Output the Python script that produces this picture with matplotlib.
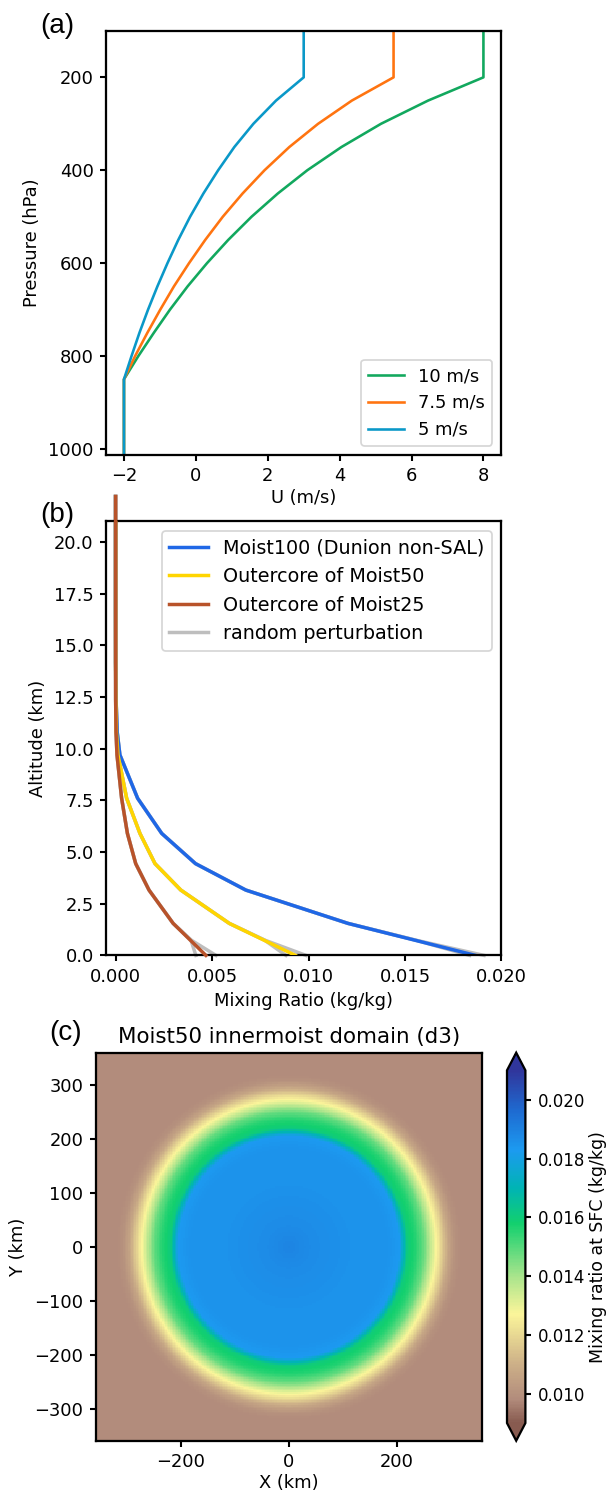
import numpy as np
import matplotlib
matplotlib.use('Agg')
import matplotlib.pyplot as plt
from matplotlib.colors import LinearSegmentedColormap, Normalize

# ---------------- data: panel (a) zonal wind profiles ----------------
pressure_hpa = [100, 200, 250, 300, 350, 400, 450, 500, 550, 600, 650, 700, 750, 800, 850, 1013]
u_10 = [8.0, 8.0, 6.46, 5.15, 4.05, 3.10, 2.28, 1.55, 0.90, 0.31, -0.23, -0.72, -1.17, -1.60, -2.0, -2.0]
u_75 = [5.5, 5.5, 4.34, 3.40, 2.60, 1.91, 1.30, 0.75, 0.26, -0.19, -0.61, -0.99, -1.35, -1.69, -2.0, -2.0]
u_5 = [3.0, 3.0, 2.23, 1.60, 1.07, 0.62, 0.21, -0.16, -0.49, -0.79, -1.07, -1.33, -1.57, -1.79, -2.0, -2.0]
wind_labels = ['10 m/s', '7.5 m/s', '5 m/s']

# ---------------- data: panel (b) moisture profiles ----------------
height_km = [0.0, 1.55, 3.16, 4.44, 5.9, 7.6, 9.7, 10.8, 12.4, 14.2, 16.6, 22.2]
q_moist100 = [0.01865, 0.01204, 0.00675, 0.00414, 0.00239, 0.00114, 0.00022, 0.00008, 0.00002, 0.0, 0.0, 0.0]
q_moist50 = [0.00932, 0.00589, 0.00338, 0.00204, 0.00126, 0.00057, 0.00012, 0.00004, 0.00001, 0.0, 0.0, 0.0]
q_moist25 = [0.00468, 0.00298, 0.00173, 0.00104, 0.00061, 0.00031, 0.00007, 0.00002, 0.0, 0.0, 0.0, 0.0]
# random perturbation envelopes: surface values and value at 0.75 km
grey_low_height_km = [0.0, 0.75]
grey_q100 = [[0.01835, 0.0155], [0.0191, 0.0155]]
grey_q50 = [[0.00883, 0.0077], [0.00987, 0.0077]]
grey_q25 = [[0.00416, 0.0039], [0.0052, 0.0039]]
grey_top_height_km = [10.8, 16.6, 22.2]
grey_top_q = [0.00002, -0.00004, -0.00004]

# ---------------- data: panel (c) radial profile of surface mixing ratio ----------------
radius_km = [0, 40, 120, 180, 205, 212, 220, 235, 250, 262, 272, 284, 296, 308, 320, 520]
q_radial = [0.0189, 0.0187, 0.0185, 0.0185, 0.0183, 0.0172, 0.0160, 0.0156, 0.0148,
            0.0137, 0.0128, 0.0117, 0.0106, 0.0100, 0.0098, 0.0098]
cmap_values = [0.0090, 0.0098, 0.0110, 0.0127, 0.0140, 0.0158, 0.0170, 0.0183, 0.0196, 0.0210]
cmap_colors = ['#885B50', '#B28C7C', '#CDB088', '#FBF59A', '#A8E48C', '#12D06E',
               '#00B4B4', '#1C9AF0', '#1E6CD2', '#30369C']
cbar_ticks = [0.010, 0.012, 0.014, 0.016, 0.018, 0.020]

# ---------------- figure ----------------
DPI = 125
W, H = 608, 1494
plt.rcParams['font.family'] = ['DejaVu Sans']
plt.rcParams['font.size'] = 10
plt.rcParams['axes.linewidth'] = 1.3
plt.rcParams['xtick.major.width'] = 1.2
plt.rcParams['ytick.major.width'] = 1.2
plt.rcParams['xtick.labelsize'] = 10.3
plt.rcParams['ytick.labelsize'] = 10.3
plt.rcParams['axes.labelsize'] = 10.3

fig = plt.figure(figsize=(W / DPI, H / DPI), dpi=DPI)

def box(left, top, right, bottom):
    return [left / W, 1 - bottom / H, (right - left) / W, (bottom - top) / H]

# ---- panel (a)
axa = fig.add_axes(box(106, 30.9, 501.4, 455))
c_green, c_orange, c_blue = '#12A85E', '#FF7410', '#0A98C8'
for u, c, lab in zip([u_10, u_75, u_5], [c_green, c_orange, c_blue], wind_labels):
    axa.plot(u, pressure_hpa, color=c, lw=1.5, label=lab)
axa.set_xlim(-2.5, 8.5)
axa.set_ylim(1013, 100)
axa.set_yticks([200, 400, 600, 800, 1000])
axa.set_xticks([-2, 0, 2, 4, 6, 8])
axa.set_xlabel('U (m/s)', labelpad=2)
axa.set_ylabel('Pressure (hPa)')
axa.legend(loc='lower right', fontsize=10.3)

# ---- panel (b)
axb = fig.add_axes(box(106, 521.3, 501.4, 955.4))
c_b100, c_b50, c_b25, c_grey = '#1F67E6', '#FFD500', '#B8532A', '#BEBEBE'
for prof, gl in zip([q_moist100, q_moist50, q_moist25], [grey_q100, grey_q50, grey_q25]):
    for g in gl:
        axb.plot(g + prof[1:], grey_low_height_km + height_km[1:], color=c_grey, lw=2.0,
                 zorder=1, clip_on=False)
axb.plot(grey_top_q, grey_top_height_km, color=c_grey, lw=2.0, zorder=1, clip_on=False)
h100, = axb.plot(q_moist100, height_km, color=c_b100, lw=2.0, zorder=2, label='Moist100 (Dunion non-SAL)')
h50, = axb.plot(q_moist50, height_km, color=c_b50, lw=2.0, zorder=3, label='Outercore of Moist50')
h25, = axb.plot(q_moist25, height_km, color=c_b25, lw=2.0, zorder=4, label='Outercore of Moist25',
                clip_on=False)
hg, = axb.plot([], [], color=c_grey, lw=2.0, label='random perturbation')
axb.set_xlim(-0.0005, 0.020)
axb.set_ylim(0, 21)
axb.set_xticks([0.000, 0.005, 0.010, 0.015, 0.020])
axb.set_yticks(np.arange(0, 20.1, 2.5))
axb.set_xlabel('Mixing Ratio (kg/kg)')
axb.set_ylabel('Altitude (km)')
axb.legend(handles=[h100, h50, h25, hg], loc='upper right', fontsize=11)

# ---- panel (c)
axc = fig.add_axes(box(95.6, 1053.3, 482.2, 1440.7))
xc = np.arange(-357, 358, 3.0)
yc = np.arange(-357, 358, 3.0)
XX, YY = np.meshgrid(xc, yc)
RR = np.hypot(XX, YY)
Q = np.interp(RR, radius_km, q_radial)
cmap = LinearSegmentedColormap.from_list(
    'terrain_cut',
    [((v - cmap_values[0]) / (cmap_values[-1] - cmap_values[0]), c) for v, c in zip(cmap_values, cmap_colors)])
norm = Normalize(vmin=0.009, vmax=0.021)
pc = axc.pcolormesh(xc, yc, Q, cmap=cmap, norm=norm, shading='nearest')
axc.set_xlim(-358.5, 358.5)
axc.set_ylim(-358.5, 358.5)
axc.set_xticks([-200, 0, 200])
axc.set_yticks([-300, -200, -100, 0, 100, 200, 300])
axc.set_xlabel('X (km)', labelpad=2)
axc.set_ylabel('Y (km)')
axc.set_title('Moist50 innermoist domain (d3)', fontsize=12.3)

cax = fig.add_axes(box(507, 1052.7, 525.4, 1440.7))
cb = fig.colorbar(pc, cax=cax, extend='both', ticks=cbar_ticks)
cb.ax.tick_params(labelsize=9.6)
cb.set_label('Mixing ratio at SFC (kg/kg)', fontsize=10)
cb.ax.yaxis.set_label_coords((598 - 507) / 18.4, 0.5)
cb.ax.yaxis.label.set_va('center')

# ---- panel letters
for lab, x, y in [('(a)', 40, 13), ('(b)', 40, 502), ('(c)', 49, 1020)]:
    fig.text(x / W, 1 - y / H, lab, fontsize=16, family=['Liberation Sans', 'DejaVu Sans'],
             ha='left', va='top')

fig.savefig('out.png', dpi=DPI)
